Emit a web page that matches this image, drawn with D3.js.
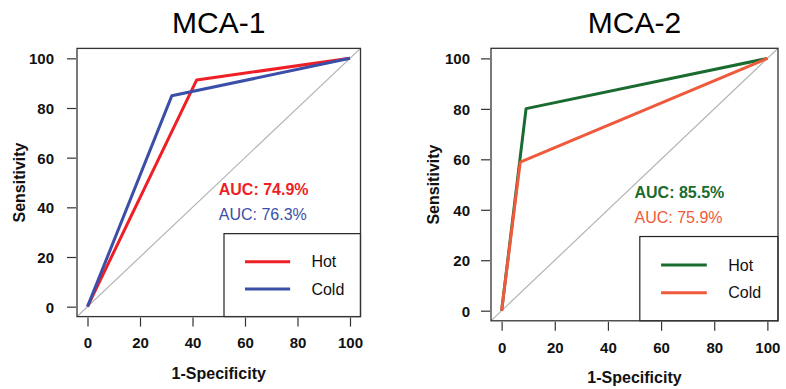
<!DOCTYPE html>
<html>
<head>
<meta charset="utf-8">
<script src="https://cdn.jsdelivr.net/npm/d3@7"></script>
<style>
  body { margin: 0; background: #fff; }
  svg { display: block; font-family: "Liberation Sans", Arial, sans-serif; }
</style>
</head>
<body>
<svg id="chart" width="786" height="389"></svg>
<script>
/*** DATA ***/
var panelTitles = ['MCA-1', 'MCA-2'];
var seriesNames = ['Hot', 'Cold'];
var tickValues = [0, 20, 40, 60, 80, 100];
// ROC points as [1-specificity, sensitivity]
var mca1Hot  = [[0, 0], [41.6, 91.3], [100, 100]];
var mca1Cold = [[0, 0], [32.1, 84.9], [100, 100]];
var mca2Hot  = [[0, 0], [9.2, 80.1], [100, 100]];
var mca2Cold = [[0, 0], [7.0, 58.9], [100, 100]];
var aucLabels = [['AUC: 74.9%', 'AUC: 76.3%'], ['AUC: 85.5%', 'AUC: 75.9%']];
var panelColors = [['#ee1f26', '#3b4fa8'], ['#1a6b30', '#f05a3c']];

var panels = [
  { title: panelTitles[0], series: [mca1Hot, mca1Cold], auc: aucLabels[0], colors: panelColors[0],
    left: 77, right: 360.5, top: 48.4, bottom: 316.6, yPad: 13 },
  { title: panelTitles[1], series: [mca2Hot, mca2Cold], auc: aucLabels[1], colors: panelColors[1],
    left: 491, right: 778, top: 48.3, bottom: 320.8, yPad: 11 }
];

var svg = d3.select('#chart');

panels.forEach(function(p, i) {
  var x = d3.scaleLinear().domain([-4, 104]).range([p.left, p.right]);
  var y = d3.scaleLinear().domain([-4, 104]).range([p.bottom, p.top]);
  var g = svg.append('g').attr('class', 'panel');

  //clip
  g.append('clipPath').attr('id', 'clip' + i)
    .append('rect')
    .attr('x', p.left).attr('y', p.top)
    .attr('width', p.right - p.left).attr('height', p.bottom - p.top);

  //title
  g.append('text')
    .attr('x', (p.left + p.right) / 2)
    .attr('y', 22)
    .attr('text-anchor', 'middle')
    .attr('dominant-baseline', 'central')
    .style('font-size', '30px')
    .text(p.title);

  //reference diagonal
  g.append('line')
    .attr('clip-path', 'url(#clip' + i + ')')
    .attr('x1', x(-4)).attr('y1', y(-4))
    .attr('x2', x(104)).attr('y2', y(104))
    .attr('stroke', '#b4b4b4')
    .attr('stroke-width', 1.2);

  //axes
  var xAxis = d3.axisBottom(x).tickValues(tickValues).tickSize(9).tickPadding(9);
  var yAxis = d3.axisLeft(y).tickValues(tickValues).tickSize(9).tickPadding(p.yPad);

  var gx = g.append('g')
    .attr('transform', 'translate(0,' + (p.bottom + 1) + ')')
    .call(xAxis);
  var gy = g.append('g')
    .attr('transform', 'translate(' + (p.left - 1) + ',0)')
    .call(yAxis);
  [gx, gy].forEach(function(a) {
    a.select('.domain').remove();
    a.selectAll('.tick line').attr('stroke', '#333').attr('stroke-width', 1.2);
    a.selectAll('.tick text')
      .attr('fill', '#111')
      .style('font-size', '15px')
      .style('font-weight', 'bold')
      .style('font-family', '"Liberation Sans", Arial, sans-serif');
  });
  gx.selectAll('.tick text').attr('dy', '0.85em');
  gy.selectAll('.tick text').attr('dy', '0.36em');

  //axis titles
  g.append('text')
    .attr('x', (p.left + p.right) / 2)
    .attr('y', p.bottom + 57)
    .attr('text-anchor', 'middle')
    .attr('dominant-baseline', 'central')
    .style('font-size', '16px')
    .style('font-weight', 'bold')
    .attr('fill', '#111')
    .text('1-Specificity');

  g.append('text')
    .attr('transform', 'translate(' + (p.left - 58) + ',' + ((p.top + p.bottom) / 2) + ') rotate(-90)')
    .attr('text-anchor', 'middle')
    .attr('dominant-baseline', 'central')
    .style('font-size', '16px')
    .style('font-weight', 'bold')
    .attr('fill', '#111')
    .text('Sensitivity');

  //roc lines
  var line = d3.line()
    .x(function(d) { return x(d[0]); })
    .y(function(d) { return y(d[1]); });

  p.series.forEach(function(s, j) {
    g.append('path')
      .datum(s)
      .attr('d', line)
      .attr('fill', 'none')
      .attr('stroke', p.colors[j])
      .attr('stroke-width', 3)
      .attr('stroke-linejoin', 'round');
  });

  //auc labels
  p.auc.forEach(function(label, j) {
    g.append('text')
      .attr('x', x(50))
      .attr('y', y(j == 0 ? 47 : 37))
      .attr('dominant-baseline', 'central')
      .style('font-size', '16px')
      .style('font-weight', j == 0 ? 'bold' : 'normal')
      .attr('fill', p.colors[j])
      .text(label);
  });

  //legend
  var lg = g.append('g').attr('class', 'legend');
  lg.append('rect')
    .attr('x', x(52)).attr('y', y(29.4))
    .attr('width', p.right - x(52))
    .attr('height', p.bottom - y(29.4))
    .attr('fill', '#fff')
    .attr('stroke', '#222')
    .attr('stroke-width', 1.2);

  seriesNames.forEach(function(name, j) {
    var ly = y(j == 0 ? 18.1 : 7.1);
    lg.append('line')
      .attr('x1', x(60)).attr('x2', x(77.2))
      .attr('y1', ly).attr('y2', ly)
      .attr('stroke', p.colors[j])
      .attr('stroke-width', 3);
    lg.append('text')
      .attr('x', x(85.3))
      .attr('y', ly)
      .attr('dominant-baseline', 'central')
      .style('font-size', '16px')
      .attr('fill', '#111')
      .text(name);
  });

  //plot box
  g.append('rect')
    .attr('x', p.left).attr('y', p.top)
    .attr('width', p.right - p.left)
    .attr('height', p.bottom - p.top)
    .attr('fill', 'none')
    .attr('stroke', '#333')
    .attr('stroke-width', 1.3);
});
</script>
</body>
</html>
